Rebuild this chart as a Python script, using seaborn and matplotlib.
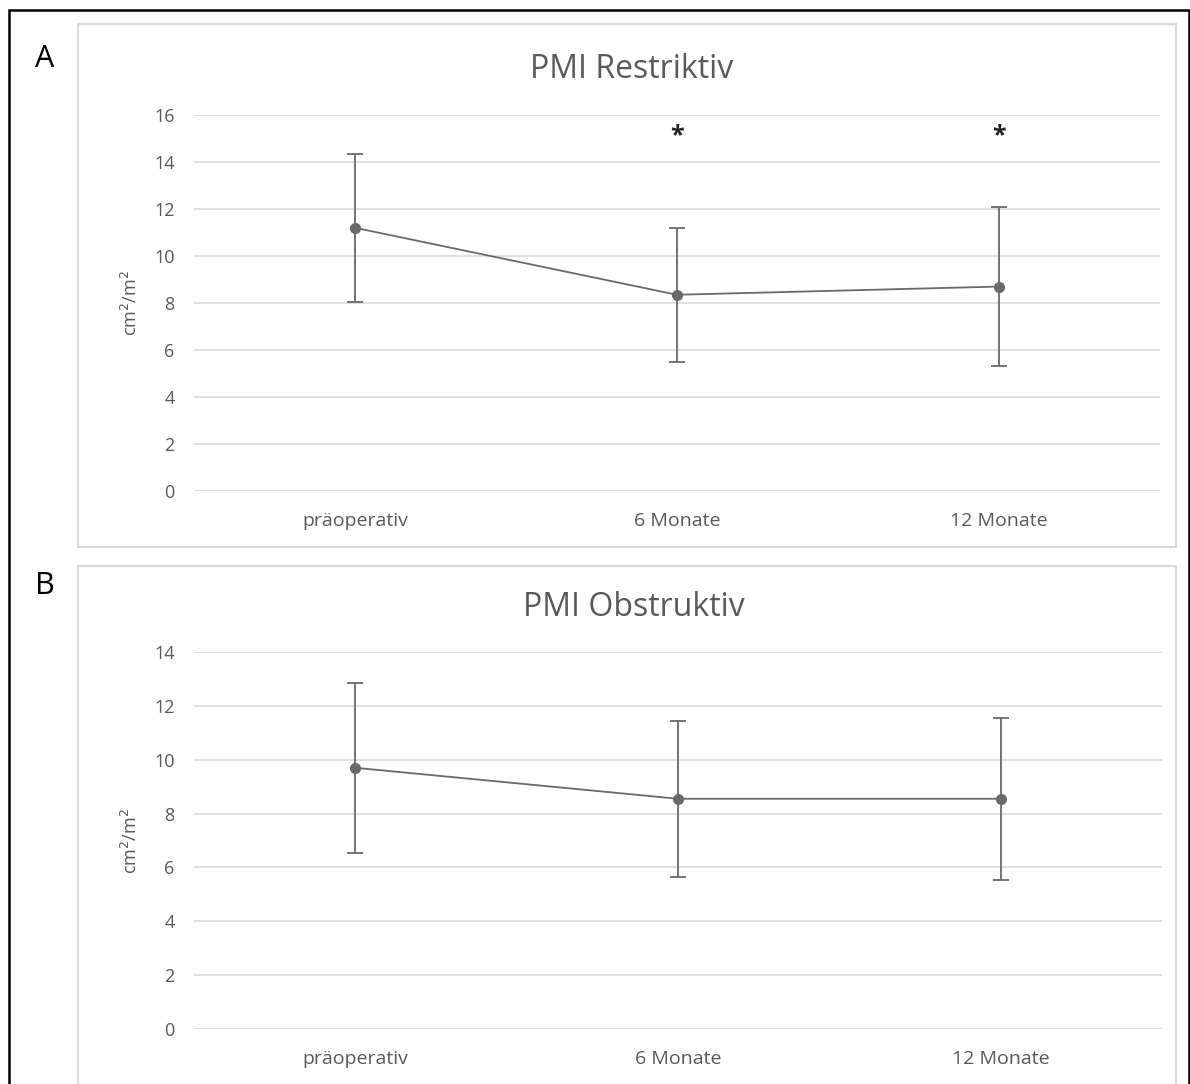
import matplotlib
matplotlib.use("Agg")
import matplotlib.pyplot as plt
import seaborn as sns
import pandas as pd
from matplotlib.patches import Rectangle

# Werte (Mittelwert +/- SD)
zeitpunkte = ["präoperativ", "6 Monate", "12 Monate"]

restriktiv_mw = [11.2, 8.35, 8.7]
restriktiv_sd = [3.15, 2.85, 3.4]

obstruktiv_mw = [9.7, 8.55, 8.55]
obstruktiv_sd = [3.15, 2.9, 3.0]

signifikant_a = [False, True, True]

W, H = 1190, 1084
GRAU = "#595959"
LINIE = "#696969"

sns.set_theme(style="white")
plt.rcParams["font.family"] = ["Open Sans", "DejaVu Sans"]

fig = plt.figure(figsize=(W / 100, H / 100), dpi=100)


def px_rect(x0, y0, x1, y1, **kw):
    # Rechteck in Pixelkoordinaten (oben links Ursprung) auf die Figur legen
    fig.patches.append(Rectangle((x0 / W, 1 - y1 / H), (x1 - x0) / W, (y1 - y0) / H,
                                 transform=fig.transFigure, fill=False, **kw))


px_rect(9, 10, 1189, 1100, edgecolor="black", linewidth=1.8)
px_rect(78, 24, 1176, 547, edgecolor="#d9d9d9", linewidth=1.5)
px_rect(78, 566, 1176, 1100, edgecolor="#d9d9d9", linewidth=1.5)


def panel(ax_box, mw, sd, titel, titel_pos, ymax, sterne=None):
    x0, y_top, x1, y_bot = ax_box
    ax = fig.add_axes([x0 / W, 1 - y_bot / H, (x1 - x0) / W, (y_bot - y_top) / H])
    df = pd.DataFrame({"zeit": zeitpunkte, "wert": mw})
    sns.lineplot(data=df, x="zeit", y="wert", ax=ax, color=LINIE, linewidth=1.3,
                 marker="o", markersize=8, markeredgewidth=0, sort=False)
    ax.errorbar(zeitpunkte, mw, yerr=sd, fmt="none", ecolor=LINIE,
                elinewidth=1.3, capsize=6, capthick=1.3)
    if sterne is not None:
        for z, s in zip(zeitpunkte, sterne):
            if s:
                ax.text(z, 15.1, "*", ha="center", va="center", fontsize=18,
                        fontweight="bold", color="#222222")
    ax.set_xlim(-0.5, 2.5)
    ax.set_ylim(0, ymax)
    ax.set_yticks(range(0, ymax + 1, 2))
    ax.grid(axis="y", color="#d9d9d9", linewidth=1.2)
    ax.set_axisbelow(True)
    for sp in ax.spines.values():
        sp.set_visible(False)
    ax.tick_params(axis="y", length=0, pad=14, labelsize=13, labelcolor=GRAU)
    ax.tick_params(axis="x", length=0, pad=15, labelsize=14, labelcolor=GRAU)
    ax.set_xlabel("")
    ax.set_ylabel("cm$^2$/m$^2$", fontsize=13, color=GRAU)
    ax.yaxis.set_label_coords((141 - x0) / (x1 - x0), 0.5)
    fig.text(titel_pos[0] / W, 1 - titel_pos[1] / H, titel, fontsize=23,
             color=GRAU, ha="center", va="center")
    return ax


ax_a = panel((194, 115, 1160, 491), restriktiv_mw, restriktiv_sd,
             "PMI Restriktiv", (632, 69), 16, signifikant_a)
ax_b = panel((194, 652, 1162, 1029), obstruktiv_mw, obstruktiv_sd,
             "PMI Obstruktiv", (634, 607), 14)

fig.text(45 / W, 1 - 59 / H, "A", fontsize=22, ha="center", va="center", color="black")
fig.text(45 / W, 1 - 586 / H, "B", fontsize=22, ha="center", va="center", color="black")

fig.savefig("out.png", dpi=100, facecolor="white")
